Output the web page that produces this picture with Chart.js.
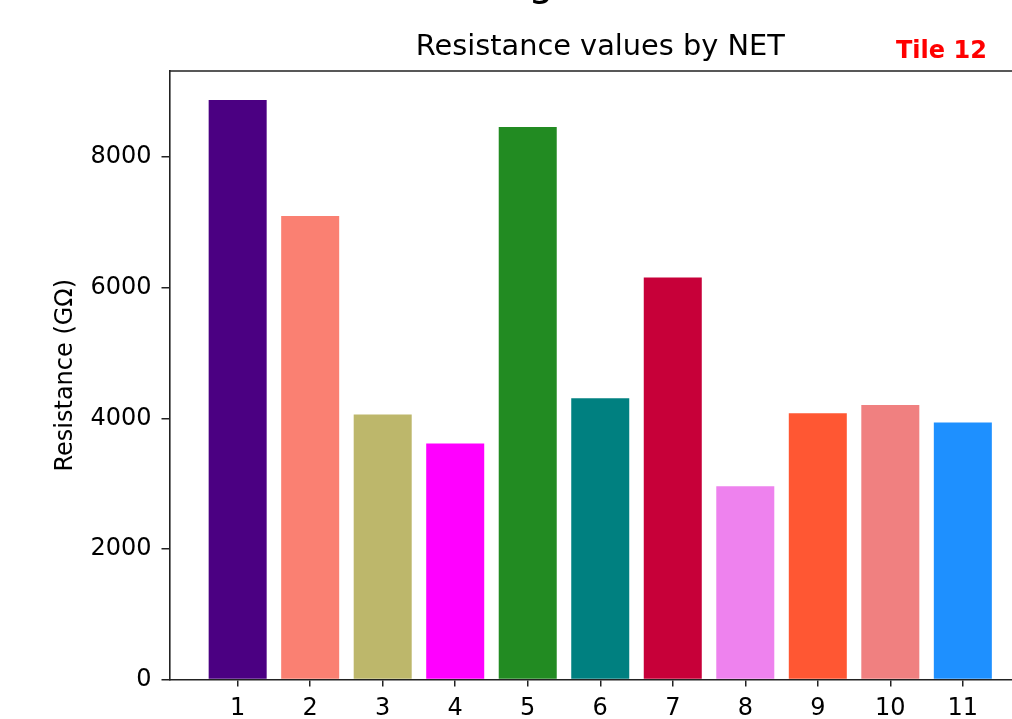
<!DOCTYPE html>
<html>
<head>
<meta charset="utf-8">
<script src="https://cdn.jsdelivr.net/npm/chart.js@4.4.1/dist/chart.umd.min.js"></script>
<style>
  html, body { margin: 0; padding: 0; background: #fff; overflow: hidden; width: 1012px; height: 719px; }
  #wrap { position: absolute; left: 0; top: 0; width: 1060px; height: 719px; }
</style>
</head>
<body>
<div id="wrap"><canvas id="c" width="1060" height="719"></canvas></div>
<script>
// NET numbers and their measured resistance (GΩ)
const nets = [1, 2, 3, 4, 5, 6, 7, 8, 9, 10, 11];
const resistance = [8875, 7097, 4057, 3613, 8462, 4306, 6157, 2960, 4077, 4203, 3934];
const barColors = ['#4B0082', '#FA8072', '#BDB76B', '#FF00FF', '#228B22', '#008080',
                   '#C70039', '#EE82EE', '#FF5733', '#F08080', '#1E90FF'];
const yTicks = [0, 2000, 4000, 6000, 8000];
const xTicks = nets;
const yMax = 9319;
const xMin = 0.06, xMax = 11.94;

const titleText = 'Resistance values by NET';
const tileText = 'Tile 12';
const yAxisLabel = 'Resistance (GΩ)';
const headFragment = 'g';

const FONT = '"DejaVu Sans", sans-serif';

const frameAndText = {
  id: 'frameAndText',
  afterDraw(chart) {
    const { ctx, chartArea: a } = chart;
    ctx.save();
    // top and right spines
    ctx.strokeStyle = '#222';
    ctx.lineWidth = 1.6;
    ctx.beginPath();
    ctx.moveTo(a.left, a.top);
    ctx.lineTo(a.right, a.top);
    ctx.lineTo(a.right, a.bottom);
    ctx.stroke();

    // axes title
    ctx.fillStyle = '#000';
    ctx.textBaseline = 'alphabetic';
    ctx.textAlign = 'center';
    ctx.font = '28.8px ' + FONT;
    ctx.fillText(titleText, (a.left + a.right) / 2, 55);

    // tile tag
    ctx.fillStyle = '#ff0000';
    ctx.textAlign = 'left';
    ctx.font = 'bold 24px ' + FONT;
    ctx.fillText(tileText, 896, 58);

    // tail of the figure heading, above the frame
    ctx.fillStyle = '#000';
    ctx.textAlign = 'center';
    ctx.font = '40px ' + FONT;
    ctx.fillText(headFragment, 541, -5.5);
    ctx.restore();
  }
};

new Chart(document.getElementById('c'), {
  type: 'bar',
  data: {
    datasets: [{
      data: nets.map((n, i) => ({ x: n, y: resistance[i] })),
      backgroundColor: barColors,
      borderWidth: 0,
      categoryPercentage: 1.0,
      barPercentage: 0.8
    }]
  },
  options: {
    responsive: false,
    devicePixelRatio: 1,
    animation: false,
    layout: { padding: { top: 71, right: 29, bottom: 0, left: 0 } },
    plugins: { legend: { display: false }, tooltip: { enabled: false }, title: { display: false } },
    scales: {
      x: {
        type: 'linear',
        offset: false,
        min: xMin,
        max: xMax,
        afterBuildTicks: s => { s.ticks = xTicks.map(v => ({ value: v })); },
        afterFit: s => { s.height = 39.5; },
        grid: { offset: false, drawOnChartArea: false, drawTicks: true, tickLength: 7, color: '#222', lineWidth: 1.5 },
        border: { display: true, color: '#222', width: 1.6 },
        ticks: {
          padding: 8,
          color: '#000',
          font: { family: FONT, size: 24 },
          callback: v => String(v),
          maxRotation: 0,
          autoSkip: false
        }
      },
      y: {
        type: 'linear',
        min: 0,
        max: yMax,
        afterBuildTicks: s => { s.ticks = yTicks.map(v => ({ value: v })); },
        afterFit: s => { s.width = 169.5; },
        grid: { drawOnChartArea: false, drawTicks: true, tickLength: 8, color: '#222', lineWidth: 1.5 },
        border: { display: true, color: '#222', width: 1.6 },
        ticks: {
          padding: 10,
          color: '#000',
          font: { family: FONT, size: 24 },
          callback: v => String(v)
        },
        title: {
          display: true,
          text: yAxisLabel,
          color: '#000',
          font: { family: FONT, size: 24 },
          padding: { top: 51, bottom: 0 }
        }
      }
    }
  },
  plugins: [frameAndText]
});
</script>
</body>
</html>
